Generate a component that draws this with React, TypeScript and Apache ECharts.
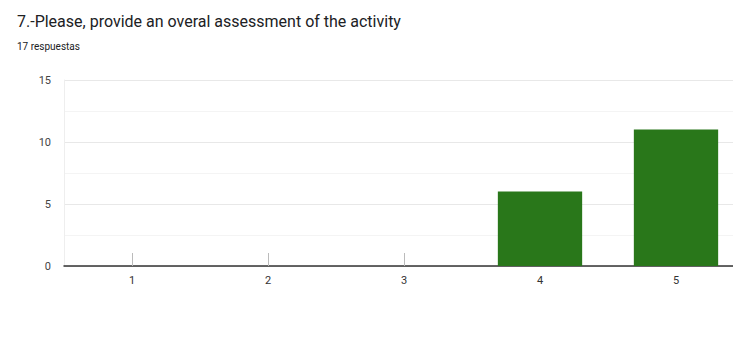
import React, { useEffect, useRef } from "react";
import * as echarts from "echarts";

const categories = ["1", "2", "3", "4", "5"];
const counts = [0, 0, 0, 6, 11];
const yTicks = [0, 5, 10, 15];
const titleText = "7.-Please, provide an overal assessment of the activity";
const subtitleText = "17 respuestas";

export default function App() {
  const ref = useRef<HTMLDivElement>(null);
  useEffect(() => {
    if (!ref.current) return;
    const chart = echarts.init(ref.current, null, { renderer: "svg" });
    chart.setOption({
      animation: false,
      backgroundColor: "#ffffff",
      title: [
        {
          text: titleText,
          left: 12,
          top: 8,
          textStyle: { fontFamily: "Roboto", fontSize: 16, fontWeight: "normal", color: "#202124" },
        },
        {
          text: subtitleText,
          left: 12,
          top: 36,
          textStyle: { fontFamily: "Roboto", fontSize: 10, fontWeight: "normal", color: "#202124" },
        },
      ],
      grid: { left: 64, top: 80, width: 680, height: 186, containLabel: false },
      xAxis: {
        type: "category",
        data: categories,
        axisLine: { lineStyle: { color: "#333333", width: 1.5 } },
        axisTick: {
          show: true,
          alignWithLabel: true,
          inside: true,
          length: 13,
          interval: (index: number) => counts[index] === 0,
          lineStyle: { color: "#bbbbbb", width: 1 },
        },
        axisLabel: { fontFamily: "Roboto", fontSize: 11, color: "#333333", margin: 9 },
      },
      yAxis: {
        type: "value",
        min: yTicks[0],
        max: yTicks[yTicks.length - 1],
        interval: 5,
        axisLine: { show: true, lineStyle: { color: "#eeeeee" } },
        axisTick: { show: false },
        axisLabel: { fontFamily: "Roboto", fontSize: 11, color: "#444444", margin: 13 },
        splitLine: { lineStyle: { color: "#e8e8e8" } },
        minorTick: { show: false, splitNumber: 2 },
        minorSplitLine: { show: true, lineStyle: { color: "#f4f4f4" } },
      },
      series: [
        {
          type: "bar",
          data: counts,
          barWidth: "62%",
          itemStyle: { color: "#29771a" },
        },
      ],
    });
    return () => chart.dispose();
  }, []);
  return (
    <div style={{ position: "fixed", left: 0, top: 0, width: 733, height: 340, overflow: "hidden" }}>
      <div ref={ref} style={{ width: 760, height: 340 }} />
    </div>
  );
}
